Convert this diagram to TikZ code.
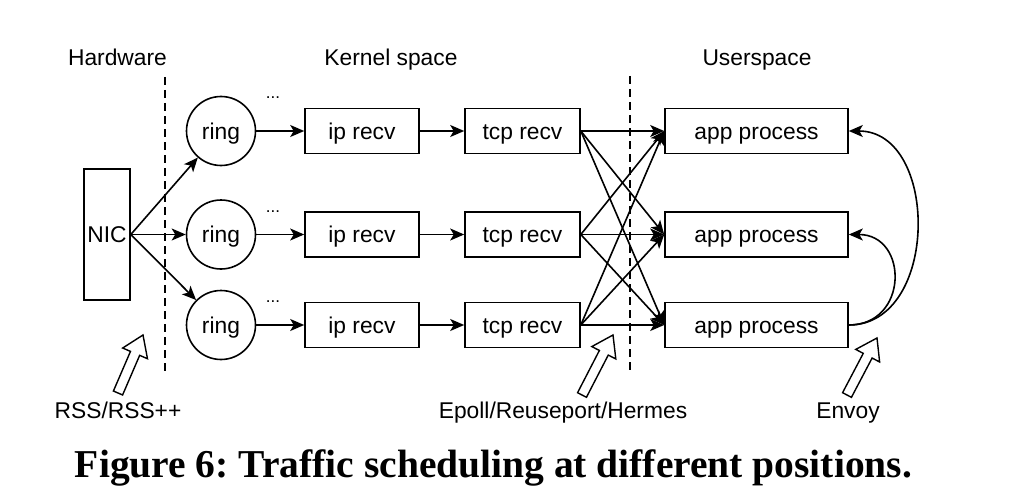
\documentclass[tikz,border=0pt]{standalone}
\usepackage{fontspec}
\setmainfont{Liberation Sans}
\newfontfamily\capfont{Liberation Serif}
\usetikzlibrary{arrows.meta,calc}
\begin{document}
\begin{tikzpicture}[x=1pt,y=-1pt,
  every node/.style={font=\fontsize{22.8}{26}\selectfont, inner sep=0pt},
  lw/.style={line width=1.6pt},
  box/.style={draw, lw, minimum height=45pt, text height=16.3pt, text depth=0pt},
  ringnode/.style={draw, lw, circle, minimum size=69pt, text height=16.3pt, text depth=0pt},
  arr/.style={lw, -{Stealth[length=14pt, width=12pt, inset=3.5pt]}},
  sep/.style={line width=1.6pt, dash pattern=on 8pt off 5pt},
  hollowa/.style={draw, line width=1.4pt, fill=white, line join=miter},
  dots/.style={font=\fontsize{17}{18}\selectfont, anchor=base}
]
\useasboundingbox (0,0) rectangle (1010,503);

% section labels
\node[anchor=base] (hw) at (117.5,66) {Hardware};
\node[anchor=base] (ks) at (391,66) {Kernel space};
\node[anchor=base] (us) at (757,66) {Userspace};

% separators
\coordinate (s1a) at (165,77); \coordinate (s1b) at (165,372);
\coordinate (s2a) at (630,76); \coordinate (s2b) at (630,372);
\draw[sep] (s1a) -- (s1b);
\draw[sep] (s2a) -- (s2b);

% NIC
\node[box, minimum width=46pt, minimum height=131pt] (nic) at (107,234.5) {NIC};

% rows
\foreach \i/\y/\dy in {1/131/99, 2/234.5/212, 3/325/302} {
  \node[ringnode] (ring\i) at (221,\y) {ring};
  \node[dots] (dots\i) at (273,\dy) {...};
  \node[box, minimum width=114pt] (ip\i) at (362,\y) {ip recv};
  \node[box, minimum width=115pt] (tcp\i) at (522.5,\y) {tcp recv};
  \node[box, minimum width=183pt] (app\i) at (756.5,\y) {app process};
  \draw[arr] (nic.east) -- (ring\i);
  \draw[arr] (ring\i) -- (ip\i);
  \draw[arr] (ip\i) -- (tcp\i);
}
\foreach \i in {1,2,3} {
  \foreach \j in {1,2,3} {
    \draw[arr] (tcp\i.east) -- (app\j.west);
  }
}

% Envoy curves
\draw[arr] (app3.east) to[out=0, in=0, looseness=1.2] (app1.east);
\draw[arr] (app3.east) to[out=0, in=0, looseness=1.7] (app2.east);

% hollow arrows
\foreach \k/\tx/\ty/\px/\py in {1/118/393/143/335, 2/582/395/613/335, 3/847/395/877/338} {
  \coordinate (t\k) at (\tx,\ty);
  \coordinate (p\k) at (\px,\py);
  \coordinate (b\k) at ($(p\k)!20pt!(t\k)$);
  \draw[hollowa] ($(t\k)!5pt!90:(p\k)$) -- ($(b\k)!5pt!90:(p\k)$) -- ($(b\k)!13.5pt!90:(p\k)$)
     -- (p\k) -- ($(b\k)!13.5pt!-90:(p\k)$) -- ($(b\k)!5pt!-90:(p\k)$) -- ($(t\k)!5pt!-90:(p\k)$) -- cycle;
}

% bottom labels
\node[anchor=base] (l1) at (118,418) {RSS/RSS++};
\node[anchor=base] (l2) at (563,418) {Epoll/Reuseport/Hermes};
\node[anchor=base] (l3) at (848,418) {Envoy};

% caption
\node[anchor=base] (cap) at (493.5,477) {\resizebox{837pt}{!}{\frenchspacing\capfont\bfseries\fontsize{34}{40}\selectfont Figure 6: Traffic scheduling at different positions.}};
\end{tikzpicture}
\end{document}
